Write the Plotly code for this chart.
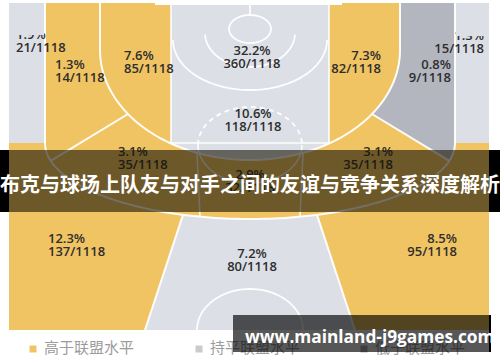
import numpy as np
import plotly.graph_objects as go

# ---------------- data ----------------
zone_names = ["左侧底角三分", "左侧底线中投", "左侧短中投", "篮下", "右侧短中投", "右侧底线中投",
              "右侧底角三分", "油漆区", "左侧45度中投", "正面中投", "右侧45度中投",
              "左侧45度三分", "正面三分", "右侧45度三分"]
pct_labels = ["1.9%", "1.3%", "7.6%", "32.2%", "7.3%", "0.8%", "1.3%", "10.6%",
              "3.1%", "2.9%", "3.1%", "12.3%", "7.2%", "8.5%"]
made_counts = [21, 14, 85, 360, 82, 9, 15, 118, 35, 32, 35, 137, 80, 95]
total_shots = 1118
zone_level = ["持平", "高于", "高于", "持平", "高于", "低于", "持平", "持平",
              "高于", "高于", "高于", "高于", "持平", "高于"]
legend_labels = ["高于联盟水平", "持平联盟水平", "低于联盟水平"]
legend_keys = ["高于", "持平", "低于"]
title_text = "布克与球场上队友与对手之间的友谊与竞争关系深度解析"
watermark_text = "www.mainland-j9games.com"

# ---------------- styles / layout ----------------
level_color = {"高于": "#f0c462", "持平": "#dcdfe6", "低于": "#b3b6be"}
legend_marker_color = {"高于": "#f0c462", "持平": "#c9cacd", "低于": "#b3b6be"}
LINE = "rgba(255,255,255,0.95)"

# label anchor (x, y of first line, alignment)
label_pos = [
    (16, 36, "l"), (55, 66, "l"), (124, 57, "l"), (252, 52, "c"), (381, 57, "r"),
    (451, 66, "r"), (484, 37, "r"), (253, 115, "c"), (118, 153, "l"), (250, 176, "c"),
    (393, 153, "r"), (48, 240, "l"), (252, 255, "c"), (457, 240, "r"),
]
LINE_GAP = 12.8

CX = 250
OUT = dict(cx=CX, cy=143, a=205, b=76)
INN = dict(cx=CX, cy=50, a=150, b=110)


def ept(e, t):
    return (e["cx"] + e["a"] * np.cos(t), e["cy"] + e["b"] * np.sin(t))


def t_at_x(e, x):
    return float(np.arccos(np.clip((x - e["cx"]) / e["a"], -1, 1)))


def arc(e, t0, t1, n=40):
    return [ept(e, t) for t in np.linspace(t0, t1, n)]


def line_hit_outer(p, d):
    px, py = p
    ax = (px - OUT["cx"]) / OUT["a"]; bx = d[0] / OUT["a"]
    ay = (py - OUT["cy"]) / OUT["b"]; by = d[1] / OUT["b"]
    A = bx * bx + by * by
    B = 2 * (ax * bx + ay * by)
    C = ax * ax + ay * ay - 1
    s = (-B + np.sqrt(B * B - 4 * A * C)) / (2 * A)
    return (px + s * d[0], py + s * d[1])


def path(pts, close=True):
    s = "M " + " L ".join(f"{x:.2f},{y:.2f}" for x, y in pts)
    return s + (" Z" if close else "")


LX0, LX1 = 171, 329
TOP, BOT, LEFT, RIGHT = 3, 330, 9, 489

ti_l = t_at_x(INN, 128); ti_r = t_at_x(INN, 372)
pin_l = ept(INN, ti_l); pin_r = ept(INN, ti_r)
pout_l = line_hit_outer(pin_l, (-71, 43)); pout_r = line_hit_outer(pin_r, (71, 43))
to_l = t_at_x(OUT, pout_l[0]); to_r = t_at_x(OUT, pout_r[0])
tb_l = t_at_x(OUT, 183); tb_r = t_at_x(OUT, 317)
tm_l_in = t_at_x(INN, 197); tm_r_in = t_at_x(INN, 303)
tm_l_out = t_at_x(OUT, 200); tm_r_out = t_at_x(OUT, 300)
ti_lane_l = t_at_x(INN, LX0); ti_lane_r = t_at_x(INN, LX1)

zone_paths = [
    [(LEFT, TOP), (45, TOP), (45, 143), (LEFT, 143)],
    [(45, TOP), (100, TOP), (100, 50)] + arc(INN, np.pi, ti_l) + [pout_l] + arc(OUT, to_l, np.pi),
    [(100, TOP), (LX0, TOP), (LX0, 143)] + arc(INN, ti_lane_l, np.pi) + [(100, TOP)],
    [(LX0, TOP), (LX1, TOP), (LX1, 70), (LX0, 70)],
    [(400, TOP), (LX1, TOP), (LX1, 143)] + arc(INN, ti_lane_r, 0) + [(400, TOP)],
    [(455, TOP), (400, TOP), (400, 50)] + arc(INN, 0, ti_r) + [pout_r] + arc(OUT, to_r, 0),
    [(455, TOP), (RIGHT, TOP), (RIGHT, 143), (455, 143)],
    [(LX0, TOP), (LX1, TOP), (LX1, 143)] + arc(INN, ti_lane_r, ti_lane_l) + [(LX0, 143)],
    arc(INN, ti_l, tm_l_in) + arc(OUT, tm_l_out, to_l),
    arc(INN, tm_l_in, tm_r_in) + arc(OUT, tm_r_out, tm_l_out),
    arc(INN, ti_r, tm_r_in) + arc(OUT, tm_r_out, to_r),
    [(LEFT, 143), (45, 143)] + arc(OUT, np.pi, tb_l) + [(145, BOT), (LEFT, BOT)],
    arc(OUT, tb_l, tb_r) + [(355, BOT), (145, BOT)],
    [(RIGHT, 143), (455, 143)] + arc(OUT, 0, tb_r) + [(355, BOT), (RIGHT, BOT)],
]

shapes = []
shapes.append(dict(type="rect", x0=LEFT, x1=RIGHT, y0=TOP, y1=BOT, line_width=0,
                   fillcolor=level_color["持平"], layer="below"))
order = [0, 6, 11, 12, 13, 1, 8, 9, 10, 5, 2, 4, 7, 3]
for i in order:
    shapes.append(dict(type="path", path=path(zone_paths[i]), line_width=0,
                       fillcolor=level_color[zone_level[i]], layer="below"))
# white strip along the top edge of the picture
shapes.append(dict(type="rect", x0=155, x1=342, y0=0, y1=5, line_width=0,
                   fillcolor="white", layer="below"))


def add_line(pts, width=2.0, dash=None, close=False):
    d = dict(type="path", path=path(pts, close=close), layer="below",
             line=dict(color=LINE, width=width))
    if dash:
        d["line"]["dash"] = dash
    shapes.append(d)


add_line([(45, TOP), (45, 143)])
add_line([(455, TOP), (455, 143)])
add_line(arc(OUT, 0, np.pi, 120))
add_line([(100, TOP), (100, 50)] + arc(INN, np.pi, 0, 120) + [(400, 50), (400, TOP)])
add_line([pin_l, pout_l])
add_line([pin_r, pout_r])
add_line([ept(OUT, tb_l), (145, BOT)])
add_line([ept(OUT, tb_r), (355, BOT)])
add_line([ept(INN, tm_l_in), ept(OUT, tm_l_out)], 1.5)
add_line([ept(INN, tm_r_in), ept(OUT, tm_r_out)], 1.5)
add_line([(LX0, 5), (LX0, 143), (LX1, 143), (LX1, 5)], 1.6)
add_line(arc(dict(cx=CX, cy=40, a=LX1 - CX - 2, b=50), 0, np.pi, 60), 1.8)
add_line(arc(dict(cx=CX, cy=33, a=45, b=34), 0.05, np.pi - 0.05, 60), 1.8)
add_line(arc(dict(cx=CX, cy=29, a=21, b=14), 0, 2 * np.pi, 60), 1.8)
add_line([(CX, 5), (CX, 15)], 1.8)
FT = dict(cx=CX, cy=145, a=52, b=38)
add_line(arc(FT, np.pi, 2 * np.pi, 60), 1.8, dash="5px,4px")
add_line(arc(FT, 0, np.pi, 60), 1.5)
add_line(arc(dict(cx=CX, cy=BOT, a=53, b=41), np.pi, 2 * np.pi, 60), 1.8)

fig = go.Figure()

for i in range(len(pct_labels)):
    x, y, al = label_pos[i]
    tp = {"l": "middle right", "r": "middle left", "c": "middle center"}[al]
    fig.add_trace(go.Scatter(
        x=[x, x], y=[y, y + LINE_GAP], mode="text",
        text=[pct_labels[i], f"{made_counts[i]}/{total_shots}"],
        textposition=tp, hoverinfo="skip",
        textfont=dict(family="Open Sans", size=13, color="#2e2e2e", weight=600),
    ))

leg_x = [33, 199, 364]
for k, (lab, key) in enumerate(zip(legend_labels, legend_keys)):
    fig.add_trace(go.Scatter(x=[leg_x[k]], y=[349], mode="markers",
                             marker=dict(symbol="square", size=7,
                                         color=legend_marker_color[key]),
                             hoverinfo="skip"))
    fig.add_trace(go.Scatter(x=[leg_x[k] + 11], y=[349], mode="text", text=[lab],
                             textposition="middle right", hoverinfo="skip",
                             textfont=dict(family="Noto Sans CJK SC", size=15,
                                           color="#9c9c9c")))

shapes.append(dict(type="rect", x0=LEFT + 1, x1=44, y0=TOP, y1=35, line_width=0,
                   fillcolor=level_color["持平"], layer="above"))
shapes.append(dict(type="rect", x0=456, x1=RIGHT - 1, y0=TOP, y1=36, line_width=0,
                   fillcolor=level_color["持平"], layer="above"))

shapes.append(dict(type="rect", x0=LEFT, x1=RIGHT, y0=150, y1=212, line_width=0,
                   fillcolor="rgba(22,16,4,0.6)", layer="above"))
shapes.append(dict(type="rect", x0=0, x1=LEFT, y0=150, y1=212, line_width=0,
                   fillcolor="#000000", layer="above"))
shapes.append(dict(type="rect", x0=RIGHT, x1=500, y0=150, y1=212, line_width=0,
                   fillcolor="#000000", layer="above"))
shapes.append(dict(type="rect", x0=233, x1=489, y0=315, y1=352, line_width=0,
                   fillcolor="rgba(0,0,0,0.66)", layer="above"))
shapes.append(dict(type="rect", x0=489, x1=491, y0=315, y1=352, line_width=0,
                   fillcolor="#000000", layer="above"))

annotations = [
    dict(x=250, y=183, xref="x", yref="y", text=title_text, showarrow=False,
         font=dict(family="Noto Sans CJK SC", size=20, color="white", weight="bold"),
         xanchor="center", yanchor="middle"),
    dict(x=243, y=336, xref="x", yref="y", text=watermark_text, showarrow=False,
         font=dict(family="Open Sans", size=17.3, color="white", weight="bold"),
         xanchor="left", yanchor="middle"),
]

fig.update_layout(
    width=500, height=362, margin=dict(l=0, r=0, t=0, b=0),
    paper_bgcolor="white", plot_bgcolor="white", showlegend=False,
    xaxis=dict(range=[0, 500], visible=False, fixedrange=True),
    yaxis=dict(range=[362, 0], visible=False, fixedrange=True),
    shapes=shapes, annotations=annotations,
)

fig.write_html("out.html")
